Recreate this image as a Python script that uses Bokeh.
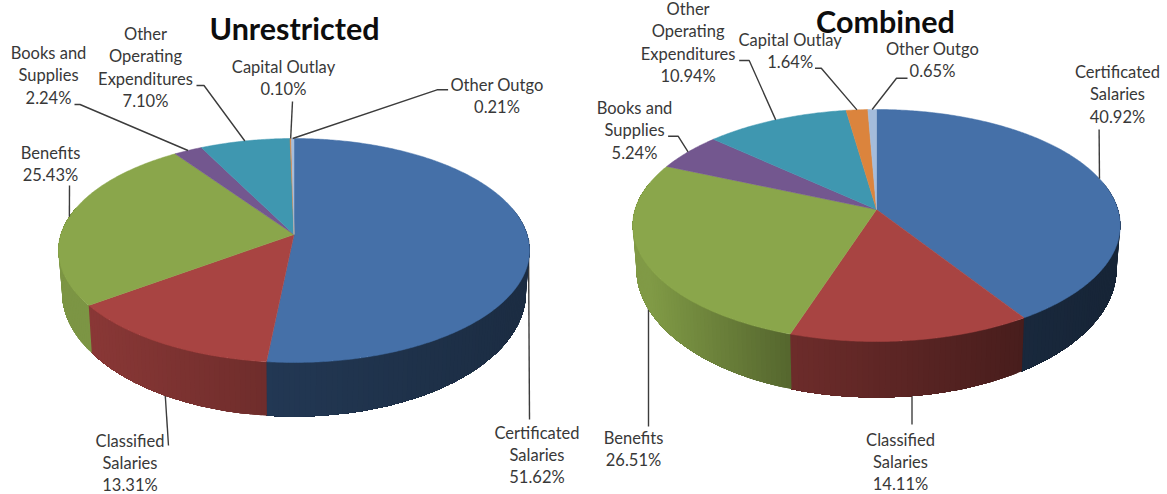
import numpy as np
from bokeh.embed import file_html
from bokeh.models import ColumnDataSource, Range1d
from bokeh.plotting import figure
from bokeh.resources import INLINE
from bokeh.core.properties import value

categories = ["Certificated Salaries", "Classified Salaries", "Benefits", "Books and Supplies",
              "Other Operating Expenditures", "Capital Outlay", "Other Outgo"]
unrestricted = [51.62, 13.31, 25.43, 2.24, 7.10, 0.10, 0.21]
combined = [40.92, 14.11, 26.51, 5.24, 10.94, 1.64, 0.65]
label_lines = [["Certificated", "Salaries"], ["Classified", "Salaries"], ["Benefits"], ["Books and", "Supplies"],
               ["Other", "Operating", "Expenditures"], ["Capital Outlay"], ["Other Outgo"]]

# Slice face colours and the light-to-dark range of each slice's outer wall
face_colors = ["#4570a8", "#a84442", "#8aa64b", "#73578f", "#3f97b0", "#db843d", "#a4bcdb"]

# Projection of each disc: apex position, half width, foreshortening, perspective, wall height
UNRESTRICTED_PIE = dict(cx=293.5, cy=234, A=233.1, B=109.7, k=1 / 7, base=54,
                        shades=[(.40, .50), (.66, .82), (.90, .90), (.7, .7), (.7, .7), (.7, .7), (.7, .7)])
COMBINED_PIE = dict(cx=876.0, cy=209, A=241.4, B=113.8, k=.138, base=56,
                    shades=[(.33, .36), (.43, .65), (.62, .93), (.7, .7), (.7, .7), (.7, .7), (.7, .7)])

# Label layout: first line centre and the free route of each leader
UNRESTRICTED_LABELS = [(536.5, 432), (129.5, 440), (50, 152.5), (48, 52.5), (145, 33.5), (283, 66.5), (496.5, 84.5)]
COMBINED_LABELS = [(1117, 71.5), (900, 439), (633, 437.5), (634, 107.5), (687.6, 8.5), (789.7, 39.5), (932, 48.5)]
UNRESTRICTED_LEADERS = [[(529, 419)], [(168, 445)], [(69, 185)], [(79.5, 104), (74, 104)],
                        [(203.5, 85), (196, 85)], [(292, 101)], [(436.5, 89.3), (447.6, 89.3)]]
COMBINED_LEADERS = [[(1098.6, 129)], [(911.5, 424)], [(648, 305), (648, 426)], [(677.6, 135.7), (667.6, 135.7)],
                    [(748.7, 60), (738.7, 60)], [(820.8, 67.7), (814.5, 67.7)], [(896, 77.7), (907, 77.7)]]
LINE_STEP = 22.4


def hex_rgb(c):
    return np.array([int(c[i:i + 2], 16) for i in (1, 3, 5)], dtype=float)


def rgb_hex(v):
    return "#%02x%02x%02x" % tuple(int(round(min(255, x))) for x in v)


def rim(pie, theta):
    """Top rim point of the disc for a clockwise angle from twelve o'clock."""
    u, v = np.sin(theta), np.cos(theta)
    d = 1 + pie["k"] * v
    return pie["cx"] + pie["A"] * u / d, pie["cy"] - pie["B"] * v / d


def base_rim(pie, theta):
    """Matching point on the lower edge of the wall."""
    x, y = rim(pie, theta)
    bottom = pie["cy"] + pie["B"] / (1 - pie["k"])
    slope = 1.11
    y0 = (bottom + pie["base"] - slope * bottom) / (1 - slope)
    return pie["cx"] + (x - pie["cx"]) * .985, y0 + (y - y0) * slope


def draw_pie(p, pie, shares, labels, leaders, title, title_pos):
    total = sum(shares)
    edges = np.concatenate([[0], np.cumsum(shares)]) / total * 2 * np.pi
    mids = (edges[:-1] + edges[1:]) / 2

    def leader(i):
        ax, ay = rim(pie, mids[i])
        pts = [(ax, ay)] + leaders[i]
        return [q[0] for q in pts], [q[1] for q in pts]

    # Leaders of the front slices pass behind the wall
    front = [i for i in range(len(shares)) if np.cos(mids[i]) < 0]
    back = [i for i in range(len(shares)) if i not in front]
    p.multi_line([leader(i)[0] for i in front], [leader(i)[1] for i in front], line_color="#3c3c3c", line_width=1.4)

    # Outer wall: overlapping strips laid from each slice's end back to its start, so no seams show
    wx, wy, wc = [], [], []
    for i, color in enumerate(face_colors):
        th = np.arange(edges[i], edges[i + 1] + .02, .02)
        th[-1] = edges[i + 1]
        th = th[np.cos(th) < .25]
        if len(th) < 2:
            continue
        xs = rim(pie, th)[0]
        s0, s1 = pie["shades"][i]
        for j in range(len(th) - 1):
            t = (xs[j] - xs[0]) / (xs[-1] - xs[0]) if xs[-1] != xs[0] else 0
            t = min(max(t, 0), 1)
            span = th[j:]
            tx, ty = rim(pie, span)
            bx, by = base_rim(pie, span)
            wx.append(list(tx) + list(bx[::-1]))
            wy.append(list(ty) + list(by[::-1]))
            wc.append(rgb_hex(hex_rgb(color) * (s0 + (s1 - s0) * t)))
    p.patches("x", "y", source=ColumnDataSource(dict(x=wx, y=wy, c=wc)), fill_color="c", line_color=None)

    # Top face
    fx, fy = [], []
    for i in range(len(shares)):
        n = max(3, int((edges[i + 1] - edges[i]) / .01))
        tx, ty = rim(pie, np.linspace(edges[i], edges[i + 1], n))
        fx.append([pie["cx"]] + list(tx))
        fy.append([pie["cy"]] + list(ty))
    p.patches("x", "y", source=ColumnDataSource(dict(x=fx, y=fy, c=face_colors)),
              fill_color="c", line_color="c", line_width=.5)

    p.multi_line([leader(i)[0] for i in back], [leader(i)[1] for i in back], line_color="#3c3c3c", line_width=1.4)

    # Category and percentage labels
    tx, ty, tt = [], [], []
    for i, lines in enumerate(label_lines):
        x0, y0 = labels[i]
        rows = lines + ["%.2f%%" % shares[i]]
        for r, row in enumerate(rows):
            tx.append(x0)
            ty.append(y0 + r * LINE_STEP)
            tt.append(row)
    p.text(tx, ty, text=tt, text_font=value("Lato"), text_font_size="16.5px", text_color="#383838",
           text_align="center", text_baseline="middle")
    p.text([title_pos[0]], [title_pos[1]], text=[title], text_font=value("Lato"), text_font_size="30.5px",
           text_font_style="bold", text_color="#0d0d0d", text_align="center", text_baseline="middle")


p = figure(width=1167, height=494, output_backend="svg", toolbar_location=None, min_border=0,
           x_range=Range1d(0, 1167), y_range=Range1d(494, 0), background_fill_color="white",
           border_fill_color="white", outline_line_color=None)
p.axis.visible = False
p.grid.visible = False

draw_pie(p, UNRESTRICTED_PIE, unrestricted, UNRESTRICTED_LABELS, UNRESTRICTED_LEADERS, "Unrestricted", (294, 27))
draw_pie(p, COMBINED_PIE, combined, COMBINED_LABELS, COMBINED_LEADERS, "Combined", (885, 20))

open("out.html", "w").write(file_html(p, INLINE))
